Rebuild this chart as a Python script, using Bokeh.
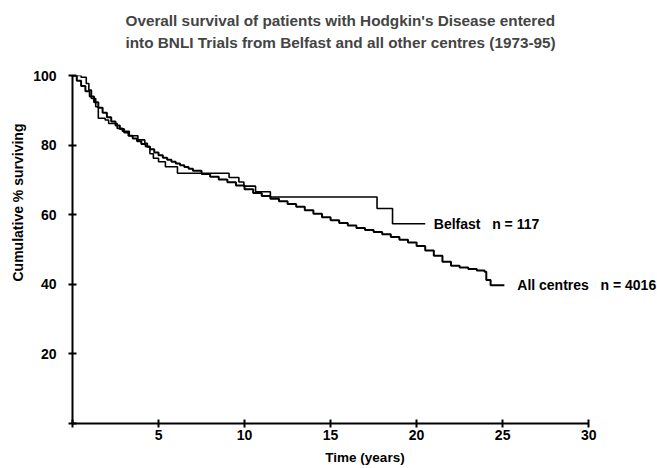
from bokeh.plotting import figure
from bokeh.models import Range1d, FixedTicker, Title, Label
from bokeh.embed import file_html
from bokeh.resources import INLINE

# All centres (n = 4016) Kaplan-Meier estimate: time (years), cumulative % surviving
all_t = [0, 0.25, 0.5, 0.75, 1.0, 1.25, 1.5, 1.75, 2.0, 2.25, 2.5, 2.75, 3.0, 3.25,
         3.5, 3.75, 4.0, 4.25, 4.5, 4.75, 5.0, 5.25, 5.5, 5.75, 6.0, 6.25, 6.5, 6.75,
         7.0, 7.5, 8.0, 8.5, 9.0, 9.5, 10.0, 10.5, 11.0, 11.5, 12.0, 12.5, 13.0, 13.5,
         14.0, 14.5, 15.0, 15.5, 16.0, 16.5, 17.0, 17.5, 18.0, 18.5, 19.0, 19.5, 20.0,
         20.5, 21.0, 21.5, 22.0, 22.5, 23.0, 23.5, 23.95, 24.05, 24.3, 25.1]
all_s = [100, 98.5, 97, 95.5, 94, 92.3, 90.7, 89.3, 88, 86.8, 85.6, 84.6, 83.6, 82.7,
         81.9, 81.1, 80.3, 79.6, 78.8, 77.9, 77.1, 76.4, 75.8, 75.2, 74.7, 74.2, 73.7, 73.2,
         72.6, 71.7, 70.9, 70.1, 69.3, 68.4, 67.3, 66.2, 65.4, 64.6, 63.9, 63.1, 62.3, 61.3,
         60.3, 59.3, 58.4, 57.6, 56.9, 56.2, 55.6, 55.0, 54.4, 53.6, 52.8, 52.0, 51.0,
         49.7, 48.2, 46.5, 45.3, 44.8, 44.4, 44.0, 43.6, 41.2, 39.7, 39.7]

# Belfast (n = 117)
bel_t = [0, 0.5, 0.8, 0.95, 1.1, 1.35, 1.5, 1.9, 2.1, 2.6, 2.9, 3.3, 3.8, 4.2, 4.35,
         4.5, 4.7, 5.0, 5.4, 6.1, 9.1, 9.67, 9.96, 10.64, 11.5, 17.7, 18.6, 20.5]
bel_s = [100, 99.5, 97.7, 95.8, 93.4, 91.0, 87.7, 87.2, 86.2, 84.8, 84.0, 82.7, 81.5, 80.5, 79.5,
         77.5, 76.2, 75.2, 73.8, 71.9, 70.7, 69.4, 68.2, 66.6, 65.1, 61.8, 57.4, 57.4]

x_ticks = [0, 5, 10, 15, 20, 25, 30]
y_ticks = [0, 20, 40, 60, 80, 100]

title_lines = ["Overall survival of patients with Hodgkin's Disease entered",
               "into BNLI Trials from Belfast and all other centres (1973-95)"]
series_labels = ["Belfast\u00a0\u00a0\u00a0n = 117", "All centres\u00a0\u00a0\u00a0n = 4016"]

FONT = "Liberation Sans"

p = figure(width=657, height=468, output_backend="svg", toolbar_location=None,
           x_range=Range1d(0, 34), y_range=Range1d(0, 100),
           min_border_left=72, min_border_right=0, min_border_top=75, min_border_bottom=45)
p.outline_line_color = None
p.grid.visible = False
p.background_fill_color = "white"
p.border_fill_color = "white"

for ax in (p.xaxis[0], p.yaxis[0]):
    ax.axis_line_width = 2
    ax.axis_line_color = "black"
    ax.major_tick_line_width = 2
    ax.major_tick_in = 4
    ax.major_tick_out = 4
    ax.minor_tick_line_color = None
    ax.major_label_text_font = FONT
    ax.major_label_text_font_size = "14px"
    ax.major_label_text_font_style = "bold"
    ax.major_label_text_color = "black"
    ax.axis_label_text_font = FONT
    ax.axis_label_text_font_size = "13.5px"
    ax.axis_label_text_font_style = "bold"
    ax.axis_label_text_color = "black"

p.xaxis.ticker = FixedTicker(ticks=x_ticks)
p.xaxis.bounds = (0, 30)
p.xaxis.major_label_overrides = {0: ""}
p.xaxis.axis_label = "Time (years)"
p.xaxis.major_label_standoff = 2
p.xaxis.axis_label_standoff = 7

p.yaxis.ticker = FixedTicker(ticks=y_ticks)
p.yaxis.major_label_overrides = {0: ""}
p.yaxis.major_label_standoff = 12

# y title as a side title, anchored from the bottom so it sits above the middle
p.add_layout(Title(text="Cumulative % surviving", align="left", offset=142, text_font=FONT,
                   text_font_size="14px", text_font_style="bold", text_color="black",
                   standoff=9), "left")

p.step(all_t, all_s, mode="after", line_color="black", line_width=2)
p.step(bel_t, bel_s, mode="after", line_color="black", line_width=1.6)

p.add_layout(Label(x=21.0, y=57.4, text=series_labels[0], text_font=FONT,
                   text_font_size="14px", text_font_style="bold", text_baseline="middle",
                   text_color="black"))
p.add_layout(Label(x=25.85, y=39.7, text=series_labels[1], text_font=FONT,
                   text_font_size="14px", text_font_style="bold", text_baseline="middle",
                   text_color="black"))

# spacer between title and plot area, then the two-line title
p.add_layout(Title(text="\u00a0", text_font_size="1px", standoff=21), "above")
p.add_layout(Title(text="\n".join(title_lines), align="left", offset=53, text_font=FONT,
                   text_font_size="15.3px", text_font_style="bold", text_line_height=1.25,
                   standoff=2), "above")

open("out.html", "w").write(file_html(p, INLINE))
